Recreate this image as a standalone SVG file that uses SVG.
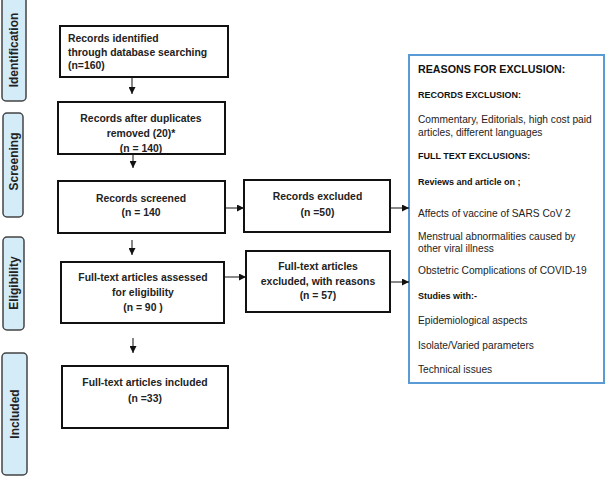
<svg xmlns="http://www.w3.org/2000/svg" width="605" height="477" viewBox="0 0 605 477">
<defs>
<marker id="ah" viewBox="0 0 10 10" refX="10" refY="5" markerWidth="7" markerHeight="7" markerUnits="userSpaceOnUse" orient="auto">
<path d="M0,0 L10,5 L0,10 z" fill="#111"/>
</marker>
<style>
.phase{fill:#d4ebf8;stroke:#444;stroke-width:1.5}
.plabel{font-family:"Liberation Sans",Arial,sans-serif;font-weight:bold;font-size:12px;fill:#222}
.box{fill:#fff;stroke:#111;stroke-width:2}
.bt{font-family:"Liberation Sans",Arial,sans-serif;font-weight:bold;font-size:10.4px;fill:#222}
.c{text-anchor:middle}
.conn{stroke:#111;stroke-width:1;fill:none;marker-end:url(#ah)}
.rbox{fill:#fff;stroke:#5b9bd5;stroke-width:2}
.rh{font-family:"Liberation Sans",Arial,sans-serif;font-weight:bold;font-size:10.7px;fill:#111}
.rs{font-family:"Liberation Sans",Arial,sans-serif;font-weight:bold;font-size:9px;fill:#111}
.rt{font-family:"Liberation Sans",Arial,sans-serif;font-size:10.2px;fill:#222}
</style>
</defs>
<rect width="605" height="477" fill="#fff"/>

<g id="phase-identification">
<rect class="phase" x="2" y="-6" width="24" height="107" rx="4"/>
<text class="plabel c" transform="translate(18,50) rotate(-90)">Identification</text>
</g>
<g id="phase-screening">
<rect class="phase" x="3" y="113" width="20" height="104" rx="4"/>
<text class="plabel c" transform="translate(17.5,161.5) rotate(-90)">Screening</text>
</g>
<g id="phase-eligibility">
<rect class="phase" x="3" y="237" width="21" height="93" rx="4"/>
<text class="plabel c" transform="translate(18,283) rotate(-90)">Eligibility</text>
</g>
<g id="phase-included">
<rect class="phase" x="2" y="353" width="25" height="122" rx="4"/>
<text class="plabel c" transform="translate(18.5,414) rotate(-90)">Included</text>
</g>

<g id="n-identified">
<rect class="box" x="60" y="26" width="168" height="51"/>
<text class="bt" x="68" y="42">Records identified</text>
<text class="bt" x="68" y="55.5">through database searching</text>
<text class="bt" x="68" y="69">(n=160)</text>
</g>
<g id="n-duplicates">
<rect class="box" x="58" y="102" width="167" height="52"/>
<text class="bt c" x="141" y="122">Records after duplicates</text>
<text class="bt c" x="141" y="137">removed (20)*</text>
<text class="bt c" x="141" y="152">(n = 140)</text>
</g>
<g id="n-screened">
<rect class="box" x="58" y="181" width="167" height="52"/>
<text class="bt c" x="141" y="202">Records screened</text>
<text class="bt c" x="141" y="216">(n = 140</text>
</g>
<g id="n-assessed">
<rect class="box" x="61" y="262" width="163" height="61"/>
<text class="bt c" x="143" y="281">Full-text articles assessed</text>
<text class="bt c" x="143" y="295.5">for eligibility</text>
<text class="bt c" x="143" y="310.5">(n =  90 )</text>
</g>
<g id="n-included">
<rect class="box" x="62" y="366" width="166" height="62"/>
<text class="bt c" x="145" y="386">Full-text articles included</text>
<text class="bt c" x="145" y="402">(n =33)</text>
</g>
<g id="n-rec-excluded">
<rect class="box" x="244" y="180" width="146" height="52"/>
<text class="bt c" x="317.5" y="199.5">Records excluded</text>
<text class="bt c" x="317.5" y="215.5">(n =50)</text>
</g>
<g id="n-ft-excluded">
<rect class="box" x="246" y="251" width="144" height="61"/>
<text class="bt c" x="318" y="270">Full-text articles</text>
<text class="bt c" x="318" y="284.5">excluded, with reasons</text>
<text class="bt c" x="318" y="299">(n = 57)</text>
</g>

<g id="n-reasons">
<rect class="rbox" x="409" y="55" width="195" height="328"/>
<text class="rh" x="418" y="72.5">REASONS FOR EXCLUSION:</text>
<text class="rs" x="418" y="98">RECORDS EXCLUSION:</text>
<text class="rt" x="418" y="123">Commentary, Editorials, high cost paid</text>
<text class="rt" x="418" y="135.5">articles, different languages</text>
<text class="rs" x="418" y="158.5">FULL TEXT EXCLUSIONS:</text>
<text class="rs" x="418" y="185">Reviews and article on ;</text>
<text class="rt" x="418" y="217">Affects of vaccine of SARS CoV 2</text>
<text class="rt" x="418" y="240">Menstrual abnormalities caused by</text>
<text class="rt" x="418" y="252">other viral illness</text>
<text class="rt" x="418" y="273.5">Obstetric Complications of COVID-19</text>
<text class="rs" x="418" y="298.5">Studies with:-</text>
<text class="rt" x="418" y="323.5">Epidemiological aspects</text>
<text class="rt" x="418" y="349">Isolate/Varied parameters</text>
<text class="rt" x="418" y="373">Technical issues</text>
</g>

<g id="connectors">
<line class="conn" x1="132" y1="78" x2="132" y2="94"/>
<line class="conn" x1="133" y1="155" x2="133" y2="168"/>
<line class="conn" x1="132" y1="240" x2="132" y2="255"/>
<line class="conn" x1="133" y1="338" x2="133" y2="353"/>
<line class="conn" x1="226" y1="208" x2="244" y2="208"/>
<line class="conn" x1="225" y1="277" x2="246" y2="277"/>
<line class="conn" x1="391" y1="208" x2="409" y2="208"/>
<line class="conn" x1="391" y1="282" x2="409" y2="282"/>
</g>
</svg>
